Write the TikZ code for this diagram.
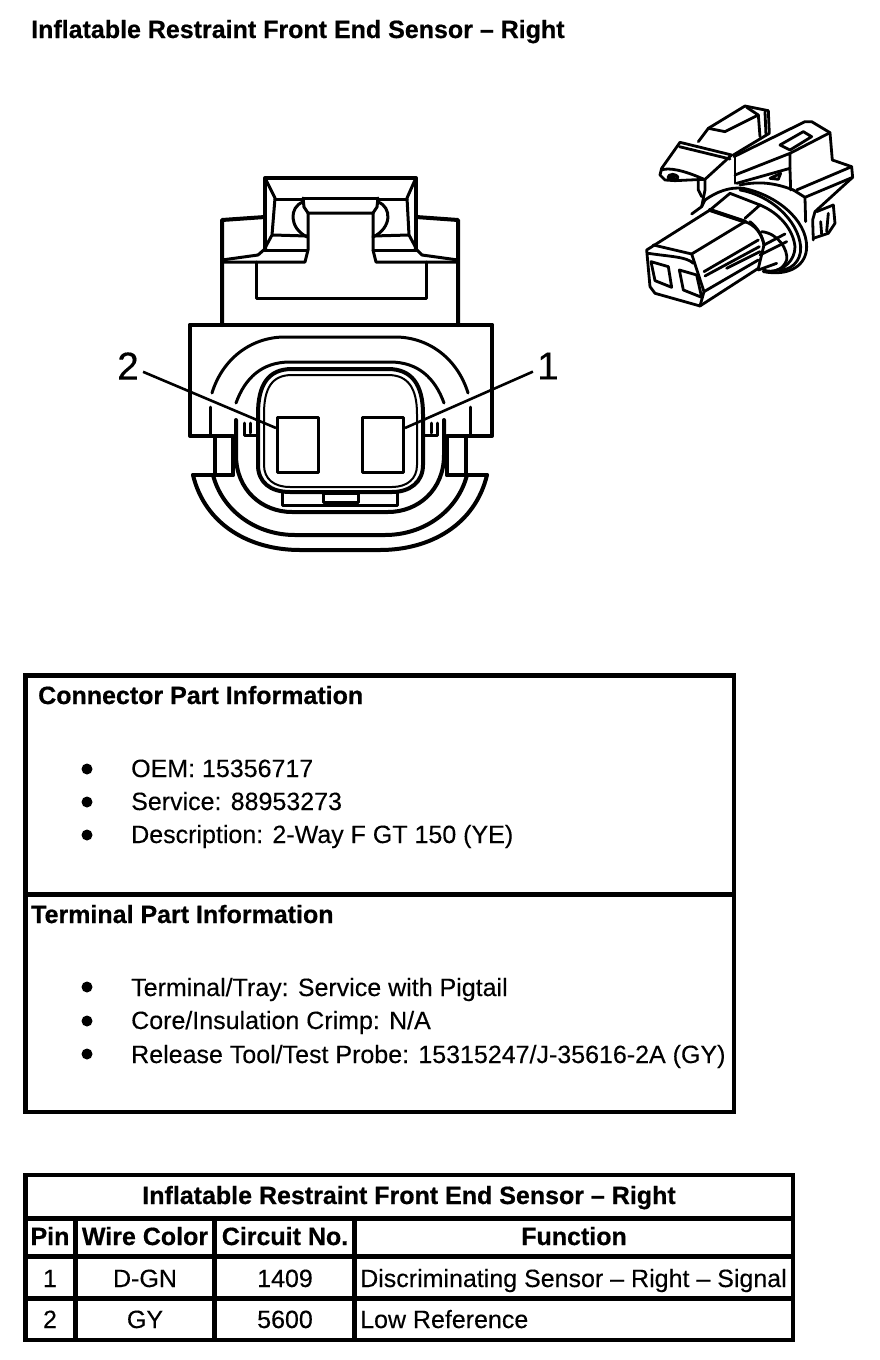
\documentclass[tikz,border=0pt]{standalone}
\usepackage{fontspec}
\setmainfont{Liberation Sans}[RawFeature={embolden=0.25},BoldFeatures={RawFeature={embolden=0.6}}]
\tikzset{
 thick line/.style={line width=4pt,line join=round,line cap=round},
 mid line/.style={line width=3pt,line join=round,line cap=round},
 thin line/.style={line width=2pt,line join=round,line cap=round},
 iso/.style={line width=2.8pt,line join=round,line cap=round},
 frame/.style={line width=4.5pt,line join=miter},
 txt/.style={inner sep=0pt,font=\fontsize{25}{28}\selectfont,anchor=base west},
 cell/.style={inner sep=0pt,font=\fontsize{25}{28}\selectfont,anchor=base},
 head/.style={inner sep=0pt,font=\fontsize{25}{28}\selectfont\bfseries,anchor=base},
 bul/.style={circle,fill=black,inner sep=0pt,minimum size=11pt},
 pinbox/.style={draw,mid line,minimum width=41pt,minimum height=55pt,inner sep=0pt},
 callout/.style={inner sep=0pt,font=\fontsize{39}{40}\selectfont},
 leader/.style={line width=2.6pt},
}
\begin{document}
\begin{tikzpicture}[x=1pt,y=-1pt]
\useasboundingbox (0,0) rectangle (880,1360);
\node[head,anchor=base west] (title) at (31,38) {Inflatable Restraint Front End Sensor – Right};

% ---- front view: upper housing
\draw[thick line] (222,325) -- (222,220) -- (265,217);
\draw[thick line] (458,325) -- (458,220) -- (416,217);
\draw[thick line] (265,250) -- (265,178) -- (416,178) -- (416,250);
\draw[mid line] (222,262) -- (305,262) -- (308,250) -- (308,213) -- (373,213) -- (373,250) -- (376,262) -- (458,262);
\draw[mid line] (222,260) -- (258,255) -- (266,248);
\draw[mid line] (458,260) -- (422,255) -- (415,248);
\draw[mid line] (256,262) -- (256,298) -- (426,298) -- (426,262);
\draw[mid line] (265,250) -- (307,250) (373,250) -- (416,250);
\draw[mid line] (266,180) -- (275,198) -- (272,235) -- (265,248);
\draw[mid line] (415,180) -- (407,198) -- (409,235) -- (416,248);
\draw[mid line] (275,199) -- (303,199) (378,199) -- (407,199);
\draw[mid line] (273,235) -- (307,236) (373,236) -- (409,235);
\draw[mid line] (303,198) -- (378,198);
\draw[mid line] (303,198) -- (304,207) -- (308,213);
\draw[mid line] (378,198) -- (377,207) -- (373,213);
\draw[mid line] (303,202) .. controls (289,207) and (289,228) .. (307,237);
\draw[mid line] (378,202) .. controls (392,207) and (392,228) .. (373,237);

% ---- front view: lower housing
\draw[thick line] (190,325) -- (492,325);
\draw[thick line] (190,325) -- (190,436) -- (233,436);
\draw[thick line] (492,325) -- (492,436) -- (447,436);
\draw[thick line] (215,437) -- (215,475) (233,437) -- (233,475);
\draw[thick line] (466,437) -- (466,475) (447,437) -- (447,475);
\draw[thick line] (193,475) -- (233,475) (447,475) -- (487,475);
\draw[thick line] (193,475) .. controls (205,525) and (250,550) .. (300,550) -- (380,550) .. controls (430,550) and (475,525) .. (487,475);
\draw[thick line] (213,475) .. controls (222,510) and (255,535) .. (295,535) -- (385,535) .. controls (425,535) and (458,510) .. (467,475);
% big arc, broken by the leaders
\draw[mid line] (212,393) .. controls (222,360) and (250,337) .. (285,337) -- (395,337) .. controls (430,337) and (458,360) .. (468,393);
\draw[mid line] (210,407) -- (210,436) (470,407) -- (470,436);
% rounded collar
\draw[mid line] (236,403) .. controls (245,378) and (262,362) .. (290,362) -- (390,362) .. controls (418,362) and (435,378) .. (444,403);
\draw[thick line] (236,420) -- (236,455) .. controls (236,490) and (262,512) .. (292,512) -- (388,512) .. controls (418,512) and (444,490) .. (444,455) -- (444,420);
% double wall
\draw[thick line] (258,414) .. controls (258,385) and (268,369) .. (292,369) -- (388,369) .. controls (412,369) and (423,385) .. (423,414) -- (423,465) .. controls (423,482) and (410,492) .. (392,492) -- (290,492) .. controls (270,492) and (258,482) .. (258,465) -- cycle;
\draw[thin line] (264,414) .. controls (264,388) and (272,375) .. (292,375) -- (388,375) .. controls (408,375) and (417,388) .. (417,414) -- (417,465) .. controls (417,479) and (407,487) .. (392,487) -- (290,487) .. controls (274,487) and (264,479) .. (264,465) -- cycle;
% tabs
\draw[mid line] (282,492) -- (282,505) -- (397,505) -- (397,492);
\draw[mid line,fill=white] (323,493) rectangle (358,502);
\draw[mid line] (244,423) -- (244,435) -- (258,435) (250,423) -- (250,433);
\draw[mid line] (437,423) -- (437,435) -- (423,435) (431,423) -- (431,433);

% pins and callouts
\node[pinbox,fill=white] (pinB) at (298,445) {};
\node[pinbox,fill=white] (pinA) at (383,445) {};
\node[callout] (lab2) at (128,366) {2};
\node[callout] (lab1) at (548,366) {1};
\draw[leader] (lab2.south east) ++(4,-8) coordinate (l2) -- (pinB.west |- 0,428);
\draw[leader] (lab1.south west) ++(-4,-8) coordinate (l1) -- (pinA.east |- 0,428);

% ---- isometric view
\begin{scope}[shift={(630,90)},x=0.3333pt,y=-0.3333pt,iso]
 % left latch rear
 \draw (205,155) -- (235,115) -- (345,48) -- (415,62) -- (418,130) -- (310,195);
 \draw (235,115) -- (285,125) -- (385,75) -- (350,52);
 \draw (385,75) -- (390,140);
 \draw (405,65) -- (408,135);
 % left latch front
 \draw (150,157) -- (305,195) -- (225,268) -- (225,300) -- (215,350);
 \draw (148,170) -- (300,207);
 \draw (150,157) -- (95,235) -- (90,255) -- (105,270) -- (135,272) -- (222,268);
 \draw (95,240) .. controls (115,232) and (160,240) .. (222,268);
 \draw[fill=black] (128,262) ellipse (14 and 9);
 \draw[fill=white] (135,262) ellipse (9 and 5);
 \draw (205,270) -- (205,300) -- (215,320);
 % right latch
 \draw (312,200) -- (525,95) -- (545,95) -- (600,128) -- (607,210);
 \draw (315,200) -- (315,280);
 \draw (315,255) -- (480,190) -- (480,235);
 \draw (480,190) -- (600,128);
 \draw (450,165) -- (520,125) -- (545,140) -- (480,180) -- cycle;
 \draw (320,280) -- (480,235) -- (482,300);
 \draw (420,265) -- (452,250) -- (445,268) -- cycle;
 \draw (330,285) .. controls (400,270) and (450,285) .. (490,300);
 % right shoulder
 \draw (607,210) -- (665,230) -- (668,262) -- (525,322) -- (490,300);
 \draw (665,230) -- (500,300);
 \draw (525,322) -- (527,395);
 \draw (668,262) -- (555,365) -- (548,390) -- (550,450);
 \draw (560,365) -- (610,345) -- (615,400) -- (595,430) -- (550,445);
 \draw (572,395) -- (575,432) (595,370) -- (590,425);
 % rings
 \draw (225,330) .. controls (260,305) and (300,290) .. (340,295) .. controls (440,315) and (530,390) .. (530,470) .. controls (530,525) and (480,560) .. (400,545);
 \draw (330,300) .. controls (420,315) and (505,390) .. (512,470) .. controls (515,515) and (480,545) .. (440,540);
 \draw (390,345) .. controls (450,370) and (490,420) .. (495,470) .. controls (495,510) and (465,540) .. (420,545);
 \draw (395,425) .. controls (445,430) and (475,480) .. (470,510) .. controls (460,540) and (430,550) .. (400,540);
 \draw (225,330) -- (215,350) -- (185,372);
 % front body
 \draw (50,480) -- (60,590) -- (75,610) -- (210,648) -- (385,535) -- (402,465) .. controls (395,430) and (375,405) .. (345,395) -- (240,360) -- cycle;
 \draw (70,465) -- (185,492) -- (345,395);
 \draw (240,360) -- (300,310) -- (390,345) -- (345,385);
 \draw[line width=4pt] (240,360) -- (345,395);
 \draw (185,492) -- (222,605) -- (210,648);
 \draw (360,395) .. controls (385,415) and (398,440) .. (402,465);
 \draw (190,520) .. controls (170,500) and (120,500) .. (55,490);
 \draw (222,545) -- (385,450);
 \draw (225,558) -- (388,470);
 \draw (290,535) -- (390,485);
 \draw (222,605) -- (385,510);
 \draw (402,465) -- (465,432);
 \draw (390,495) -- (470,455);
 \draw (385,540) -- (440,520);
 % windows
 \draw (63,515) -- (115,530) -- (125,592) -- (75,572) -- cycle;
 \draw (148,540) -- (200,555) -- (215,622) -- (160,600) -- cycle;
\end{scope}

% ---- part information box
\draw[frame] (25.5,675.5) rectangle (734,1112);
\draw[frame] (25.5,894.5) -- (734,894.5);
\node[head,anchor=base west] (t1) at (38,704) {Connector Part Information};
\node[head,anchor=base west] (t2) at (31,923) {Terminal Part Information};
\node[txt] (item1) at (131,777) {OEM: 15356717};
\node[txt] (item2) at (131,810) {Service: 88953273};
\node[txt] (item3) at (131,843) {Description: 2-Way F GT 150 (YE)};
\node[txt] (item4) at (131,996) {Terminal/Tray: Service with Pigtail};
\node[txt] (item5) at (131,1029) {Core/Insulation Crimp: N/A};
\node[txt] (item6) at (131,1063) {Release Tool/Test Probe: 15315247/J-35616-2A (GY)};
\foreach \y [count=\i] in {769,802,835,987,1021,1054}{
 \node[bul] (dot\i) at (87,\y) {};
}

% ---- pin table
\draw[frame] (25.5,1175) rectangle (793,1340);
\draw[frame] (25,1218.5) -- (793,1218.5) (25,1256.5) -- (793,1256.5) (25,1298.5) -- (793,1298.5);
\draw[frame] (75.5,1218) -- (75.5,1340) (214.5,1218) -- (214.5,1340) (354.5,1218) -- (354.5,1340);
\node[head] (h0) at (409,1204) {Inflatable Restraint Front End Sensor – Right};
\node[head] (h1) at (50,1245) {Pin};
\node[head] (h2) at (145,1245) {Wire Color};
\node[head] (h3) at (285,1245) {Circuit No.};
\node[head] (h4) at (574,1245) {Function};
\node[cell] (c11) at (50,1287) {1};
\node[cell] (c12) at (145,1287) {D-GN};
\node[cell] (c13) at (285,1287) {1409};
\node[txt] (c14) at (360,1287) {Discriminating Sensor – Right – Signal};
\node[cell] (c21) at (50,1328) {2};
\node[cell] (c22) at (145,1328) {GY};
\node[cell] (c23) at (285,1328) {5600};
\node[txt] (c24) at (360,1328) {Low Reference};
\end{tikzpicture}
\end{document}
